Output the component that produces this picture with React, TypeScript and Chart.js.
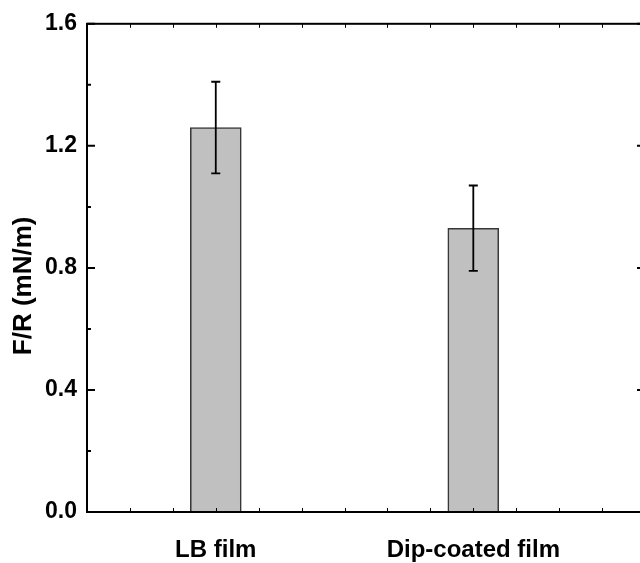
import React, { useEffect, useRef } from "react";
import { Chart, registerables } from "chart.js";

Chart.register(...registerables);

const categories = ["LB film", "Dip-coated film"];
const categoryX = [1, 2];
const values = [1.26, 0.93];
const errors = [0.15, 0.14];
const yTicks = [0, 0.4, 0.8, 1.2, 1.6];
const yTitle = "F/R (mN/m)";

const X_MIN = 0.5;
const X_MAX = 2 + 2 / 3;
const X_MINOR_STEP = 1 / 6;
const FONT = "'Liberation Sans', Arial, sans-serif";

const CANVAS_W = 700;
const CANVAS_H = 563;

const decorPlugin = {
  id: "decor",
  afterDatasetsDraw(chart: any) {
    const { ctx, chartArea: a, scales } = chart;
    const x = scales.x;
    const y = scales.y;
    ctx.save();
    // error bars
    const meta = chart.getDatasetMeta(0);
    ctx.strokeStyle = "#000";
    ctx.lineWidth = 1.8;
    meta.data.forEach((bar: any, i: number) => {
      const cx = bar.x;
      const top = y.getPixelForValue(values[i] + errors[i]);
      const bot = y.getPixelForValue(values[i] - errors[i]);
      ctx.beginPath();
      ctx.moveTo(cx, top);
      ctx.lineTo(cx, bot);
      ctx.moveTo(cx - 4.5, top);
      ctx.lineTo(cx + 4.5, top);
      ctx.moveTo(cx - 4.5, bot);
      ctx.lineTo(cx + 4.5, bot);
      ctx.stroke();
    });
    // frame
    ctx.lineWidth = 2;
    ctx.strokeStyle = "#000";
    ctx.strokeRect(a.left, a.top, a.right - a.left, a.bottom - a.top);
    // y ticks (major + minor), inward on both sides
    ctx.beginPath();
    yTicks.forEach((v, i) => {
      const py = y.getPixelForValue(v);
      ctx.moveTo(a.left, py);
      ctx.lineTo(a.left + 8, py);
      ctx.moveTo(a.right, py);
      ctx.lineTo(a.right - 8, py);
      if (i < yTicks.length - 1) {
        const pm = y.getPixelForValue((v + yTicks[i + 1]) / 2);
        ctx.moveTo(a.left, pm);
        ctx.lineTo(a.left + 4, pm);
        ctx.moveTo(a.right, pm);
        ctx.lineTo(a.right - 4, pm);
      }
    });
    ctx.stroke();
    // x minor ticks, inward top and bottom
    ctx.lineWidth = 1;
    ctx.beginPath();
    for (let v = X_MIN + X_MINOR_STEP; v < X_MAX - 1e-6; v += X_MINOR_STEP) {
      const px = Math.round(x.getPixelForValue(v)) + 0.5;
      ctx.moveTo(px, a.bottom);
      ctx.lineTo(px, a.bottom - 4);
      ctx.moveTo(px, a.top);
      ctx.lineTo(px, a.top + 4);
    }
    ctx.stroke();
    // y title
    ctx.translate(30.5, (a.top + a.bottom) / 2 + 18);
    ctx.rotate(-Math.PI / 2);
    ctx.fillStyle = "#000";
    ctx.font = `bold 26px ${FONT}`;
    ctx.textAlign = "center";
    ctx.textBaseline = "alphabetic";
    ctx.fillText(yTitle, 0, 0);
    ctx.restore();
  },
};

export default function App() {
  const ref = useRef<HTMLCanvasElement | null>(null);

  useEffect(() => {
    if (!ref.current) return;
    const chart = new Chart(ref.current, {
      type: "bar",
      data: {
        datasets: [
          {
            data: categoryX.map((cx, i) => ({ x: cx, y: values[i] })),
            backgroundColor: "#c0c0c0",
            borderColor: "#383838",
            borderWidth: 1.6,
            barThickness: 51,
          },
        ],
      },
      options: {
        animation: false,
        responsive: false,
        devicePixelRatio: 1,
        layout: { padding: { left: 0, top: 22, right: CANVAS_W - 645, bottom: 0 } },
        plugins: { legend: { display: false }, tooltip: { enabled: false } },
        scales: {
          x: {
            type: "linear",
            offset: false,
            min: X_MIN,
            max: X_MAX,
            grid: { display: false, drawTicks: false, offset: false },
            border: { display: false },
            afterBuildTicks: (s: any) => {
              s.ticks = categoryX.map((v) => ({ value: v }));
            },
            afterFit: (s: any) => {
              s.height = CANVAS_H - 512;
            },
            ticks: {
              padding: 24,
              color: "#000",
              font: { family: FONT, size: 24, weight: "bold" },
              callback: (v: any) => {
                const i = categoryX.indexOf(Number(v));
                return i >= 0 ? categories[i] : "";
              },
            },
          },
          y: {
            type: "linear",
            min: yTicks[0],
            max: yTicks[yTicks.length - 1],
            grid: { display: false, drawTicks: false },
            border: { display: false },
            afterBuildTicks: (s: any) => {
              s.ticks = yTicks.map((v) => ({ value: v }));
            },
            afterFit: (s: any) => {
              s.width = 87;
            },
            ticks: {
              padding: 10,
              color: "#000",
              font: { family: FONT, size: 23, weight: "bold" },
              callback: (v: any) => Number(v).toFixed(1),
            },
          },
        },
      },
      plugins: [decorPlugin],
    });
    return () => chart.destroy();
  }, []);

  return (
    <div
      style={{
        position: "fixed",
        left: 0,
        top: 0,
        width: 640,
        height: 563,
        overflow: "hidden",
        background: "#fff",
      }}
    >
      <canvas ref={ref} width={CANVAS_W} height={CANVAS_H} style={{ width: CANVAS_W, height: CANVAS_H, display: "block" }} />
    </div>
  );
}
